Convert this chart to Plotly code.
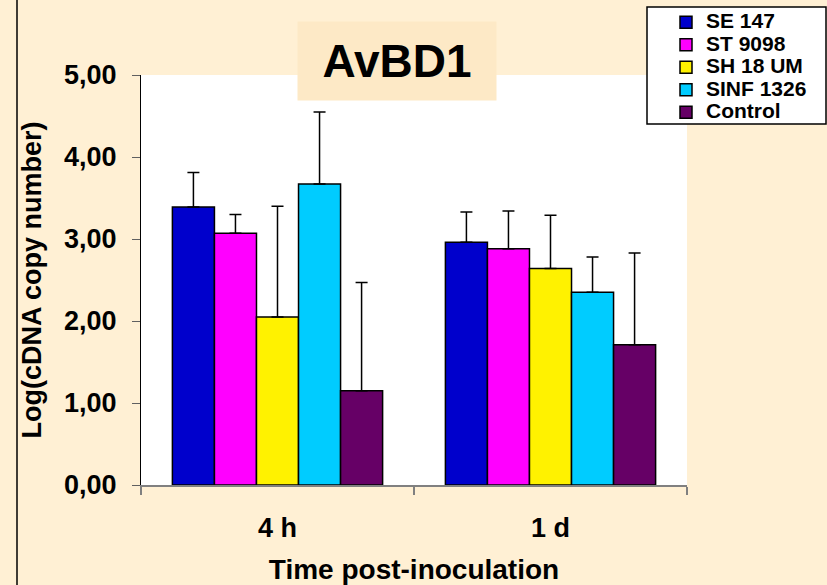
import plotly.graph_objects as go

categories = ["4 h", "1 d"]
series_names = ["SE 147", "ST 9098", "SH 18 UM", "SINF 1326", "Control"]
series_colors = ["#0000CC", "#FF00FF", "#FFF200", "#00CCFF", "#660066"]
values = {
    "SE 147": [3.39, 2.96],
    "ST 9098": [3.07, 2.88],
    "SH 18 UM": [2.05, 2.64],
    "SINF 1326": [3.67, 2.35],
    "Control": [1.15, 1.71],
}
errors = {
    "SE 147": [0.42, 0.37],
    "ST 9098": [0.23, 0.46],
    "SH 18 UM": [1.35, 0.65],
    "SINF 1326": [0.88, 0.43],
    "Control": [1.32, 1.12],
}
y_ticks = [0, 1, 2, 3, 4, 5]

FONT = "Arial, 'Liberation Sans', sans-serif"
BG = "#FFF0D4"

fig = go.Figure()
for name, color in zip(series_names, series_colors):
    fig.add_trace(go.Bar(
        name='<span style="font-size:21px">' + name + '</span>',
        x=categories, y=values[name],
        marker=dict(color=color, line=dict(color="black", width=1.5)),
        error_y=dict(type="data", array=errors[name], symmetric=False,
                     arrayminus=[0] * len(categories),
                     color="black", thickness=1.5, width=6),
    ))

W, H = 827, 585
L, R, T, B = 141, 140, 75, 100
pw, ph = W - L - R, H - T - B

def px(x):
    return (x - L) / pw

def py(y):
    return 1 - (y - T) / ph

fig.update_layout(
    width=W, height=H,
    margin=dict(l=L, r=R, t=T, b=B, pad=0, autoexpand=False),
    paper_bgcolor=BG, plot_bgcolor="white",
    barmode="group", bargap=0.23, bargroupgap=0,
    separators=",.",
    font=dict(family=FONT, color="black"),
    showlegend=True,
    legend=dict(
        x=px(666), y=py(6), xanchor="left", yanchor="top",
        bgcolor="rgba(0,0,0,0)", borderwidth=0,
        font=dict(family=FONT, size=15, color="black", weight="bold"),
        tracegroupgap=0, itemwidth=30,
    ),
    xaxis=dict(
        automargin=False,
        showline=True, linecolor="#808080", linewidth=2,
        ticks="outside", ticklen=8, tickcolor="#808080", tickwidth=1.5,
        tickson="boundaries",
        tickfont=dict(size=27, weight="bold"),
        ticklabelstandoff=18,
        title=dict(text="Time post-inoculation", font=dict(size=28, weight="bold"), standoff=18),
        showgrid=False,
    ),
    yaxis=dict(
        automargin=False,
        range=[0, 5], tickvals=y_ticks, tickformat=".2f",
        showline=True, linecolor="black", linewidth=1,
        ticks="outside", ticklen=8, tickcolor="#606060", tickwidth=1,
        tickfont=dict(size=27, weight="bold"),
        ticklabelstandoff=10,
        title=dict(text="Log(cDNA copy number)", font=dict(size=27, weight="bold"), standoff=14),
        showgrid=False, zeroline=False,
    ),
    annotations=[dict(
        text="<b>AvBD1</b>", xref="paper", yref="paper",
        x=px(397), y=py(61), xanchor="center", yanchor="middle",
        showarrow=False, bgcolor="#FDE9C6", width=196, height=76,
        font=dict(family=FONT, size=46, color="black"),
    )],
    shapes=[
        dict(type="line", xref="paper", yref="paper",
             x0=px(17), x1=px(17), y0=py(H), y1=py(0),
             line=dict(color="black", width=1.5)),
        dict(type="rect", xref="paper", yref="paper",
             x0=px(647), x1=px(826), y0=py(124), y1=py(7),
             fillcolor="white", line=dict(color="black", width=1.5), layer="above"),
    ],
)

fig.write_html("out.html", config={"displayModeBar": False},
               post_script="document.body.style.margin='0';")
